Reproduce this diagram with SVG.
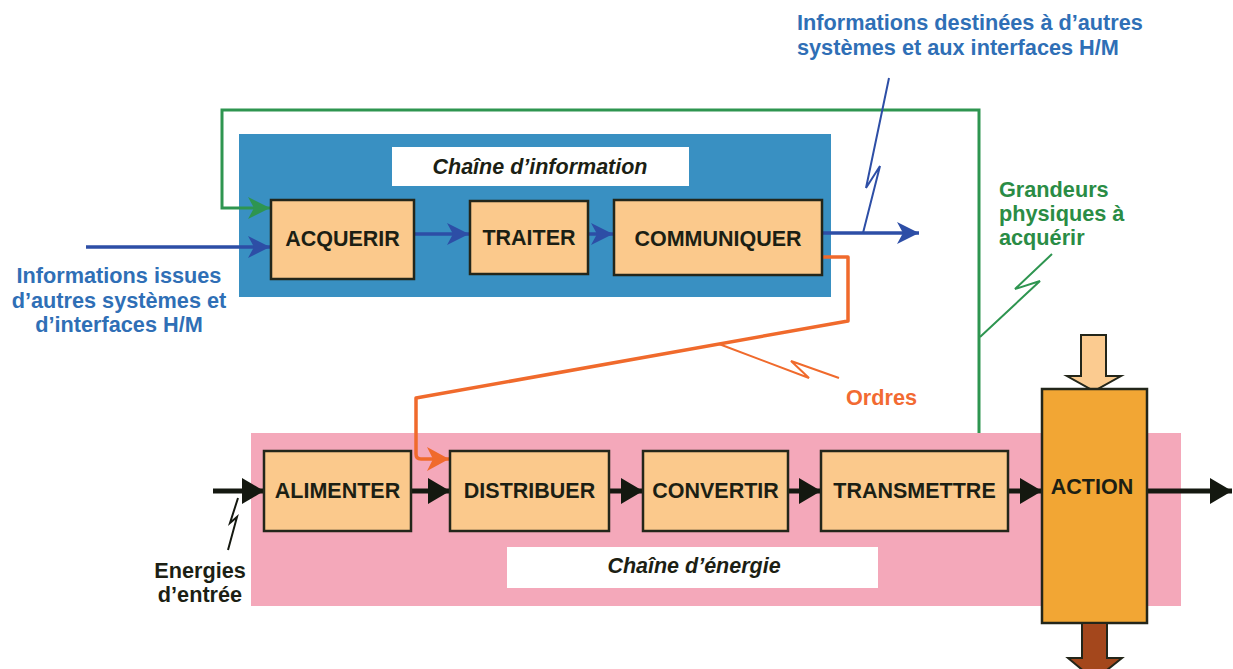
<svg xmlns="http://www.w3.org/2000/svg" width="1233" height="669" viewBox="0 0 1233 669">
<style>
.box{fill:#fbc98c;stroke:#23261a;stroke-width:2.5}
.bt{font-family:"Liberation Sans",Arial,sans-serif;font-weight:bold;font-size:21.5px;fill:#1c1f14;text-anchor:middle}
.lbl{font-family:"Liberation Sans",Arial,sans-serif;font-weight:bold;font-size:21.7px}
.blue{fill:#2f6fb6}
.green{fill:#2a8c45}
.orange{fill:#f26a32}
.dark{fill:#1c1f14}
.title{font-family:"Liberation Sans",Arial,sans-serif;font-weight:bold;font-style:italic;font-size:21.5px;fill:#1c1f14;text-anchor:middle}
.bl{fill:none;stroke:#2d4ea6;stroke-width:3.5}
.gl{fill:none;stroke:#2e9550;stroke-width:3}
.ol{fill:none;stroke:#f06a2c;stroke-width:3.5;stroke-linejoin:round}
.kl{fill:none;stroke:#141810;stroke-width:5}
.zz{fill:none;stroke-width:2;stroke-linejoin:miter}
</style>
<defs>
<marker id="ab" markerUnits="userSpaceOnUse" markerWidth="24" markerHeight="24" refX="22" refY="11" orient="auto"><path d="M0,0 L22,11 L0,22 L6,11 Z" fill="#2d4ea6"/></marker>
<marker id="ag" markerUnits="userSpaceOnUse" markerWidth="24" markerHeight="24" refX="22" refY="11" orient="auto"><path d="M0,0 L22,11 L0,22 L6,11 Z" fill="#2e9550"/></marker>
<marker id="ao" markerUnits="userSpaceOnUse" markerWidth="24" markerHeight="26" refX="22" refY="12" orient="auto"><path d="M0,0 L22,12 L0,24 L6,12 Z" fill="#f06a2c"/></marker>
<marker id="ak" markerUnits="userSpaceOnUse" markerWidth="24" markerHeight="28" refX="22" refY="13" orient="auto"><path d="M0,0 L22,13 L0,26 Z" fill="#141810"/></marker>
</defs>
<rect width="1233" height="669" fill="#ffffff"/>
<g id="chaine-information">
<rect x="239" y="134" width="592" height="163" fill="#3990c2"/>
<rect x="392" y="147" width="297" height="39" fill="#ffffff"/>
<text class="title" x="540" y="174">Chaîne d’information</text>
</g>
<g id="chaine-energie">
<rect x="251" y="433" width="930" height="173" fill="#f4a8ba"/>
<rect x="507" y="547" width="371" height="41" fill="#ffffff"/>
<text class="title" x="694" y="573">Chaîne d’énergie</text>
</g>
<g id="connectors">
<path class="gl" d="M979,433 V110 H222 V208 H270" marker-end="url(#ag)"/>
<path class="bl" d="M86,247 H270" marker-end="url(#ab)"/>
<path class="bl" d="M414,234 H469" marker-end="url(#ab)"/>
<path class="bl" d="M588,234 H613" marker-end="url(#ab)"/>
<path class="bl" d="M822,233 H919" marker-end="url(#ab)"/>
<path class="ol" d="M822,257 H848 V321 L416,398 V454 Q416,459 421,459 H449" marker-end="url(#ao)"/>
<path class="kl" d="M213,491 H264" marker-end="url(#ak)"/>
<path class="kl" d="M411,491 H450" marker-end="url(#ak)"/>
<path class="kl" d="M609,491 H643" marker-end="url(#ak)"/>
<path class="kl" d="M788,491 H821" marker-end="url(#ak)"/>
<path class="kl" d="M1008,491 H1042" marker-end="url(#ak)"/>
<path class="kl" d="M1147,491 H1232" marker-end="url(#ak)"/>
<polyline class="zz" stroke="#2d4ea6" points="889,78 866,188 880,166 863,233"/>
<polyline class="zz" stroke="#2e9550" points="1052,254 1015,289 1040,281 980,337"/>
<polyline class="zz" stroke="#f06a2c" points="719,344 809,378 791,361 839,378"/>
<polyline class="zz" stroke="#141810" points="238,498 230,523 237,517 228,550"/>
</g>
<g id="acquerir"><rect class="box" x="271" y="200" width="143" height="79"/><text class="bt" x="342.5" y="246">ACQUERIR</text></g>
<g id="traiter"><rect class="box" x="470" y="201" width="118" height="73"/><text class="bt" x="529" y="245">TRAITER</text></g>
<g id="communiquer"><rect class="box" x="614" y="200" width="208" height="75"/><text class="bt" x="718" y="246">COMMUNIQUER</text></g>
<g id="alimenter"><rect class="box" x="264" y="451" width="147" height="80"/><text class="bt" x="337.5" y="498">ALIMENTER</text></g>
<g id="distribuer"><rect class="box" x="450" y="451" width="159" height="80"/><text class="bt" x="529.5" y="498">DISTRIBUER</text></g>
<g id="convertir"><rect class="box" x="643" y="451" width="145" height="80"/><text class="bt" x="715.5" y="498">CONVERTIR</text></g>
<g id="transmettre"><rect class="box" x="821" y="451" width="187" height="80"/><text class="bt" x="914.5" y="498">TRANSMETTRE</text></g>
<g id="action">
<polygon points="1081,335 1106,335 1106,376 1121,376 1094,391 1067,376 1081,376" fill="#fbcb90" stroke="#23261a" stroke-width="2"/>
<rect x="1042" y="389" width="105" height="234" fill="#f2a634" stroke="#23261a" stroke-width="2.5"/>
<polygon points="1082,623 1107,623 1107,658 1122,658 1094.5,680 1068,658 1082,658" fill="#a4471c" stroke="#23261a" stroke-width="2"/>
<text class="bt" x="1092" y="494">ACTION</text>
</g>
<g id="labels">
<text class="lbl blue" x="797" y="30">Informations destinées à d’autres</text>
<text class="lbl blue" x="797" y="55">systèmes et aux interfaces H/M</text>
<text class="lbl blue" x="119" y="283" text-anchor="middle">Informations issues</text>
<text class="lbl blue" x="119" y="308" text-anchor="middle">d’autres systèmes et</text>
<text class="lbl blue" x="119" y="332" text-anchor="middle">d’interfaces H/M</text>
<text class="lbl green" x="999" y="197">Grandeurs</text>
<text class="lbl green" x="999" y="221">physiques à</text>
<text class="lbl green" x="999" y="245">acquérir</text>
<text class="lbl orange" x="846" y="405">Ordres</text>
<text class="lbl dark" x="200" y="578" text-anchor="middle">Energies</text>
<text class="lbl dark" x="200" y="602" text-anchor="middle">d’entrée</text>
</g>
</svg>
